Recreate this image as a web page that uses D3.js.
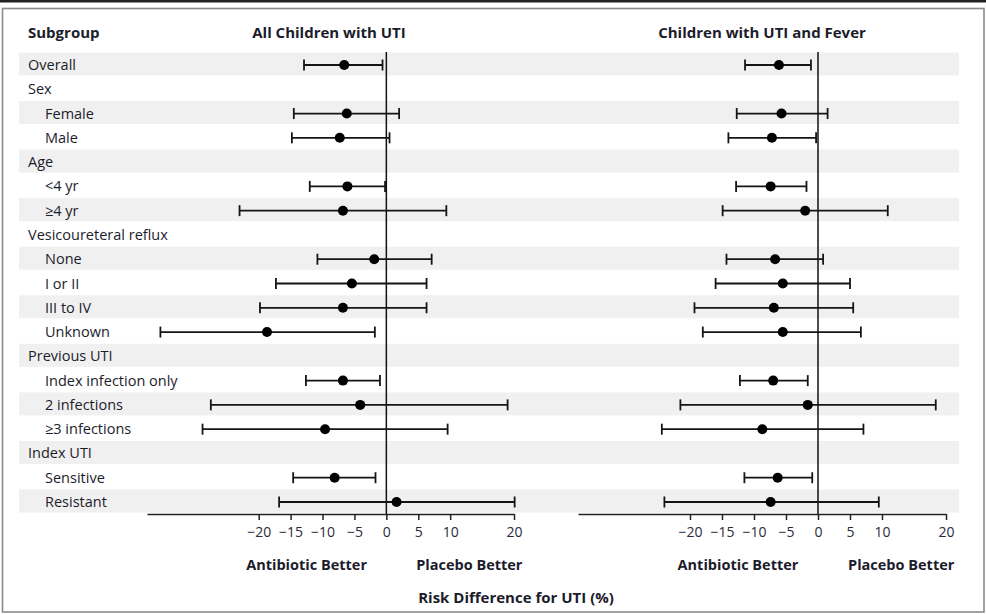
<!DOCTYPE html>
<html><head><meta charset="utf-8">
<script src="https://cdn.jsdelivr.net/npm/d3@7"></script>
<style>
html,body{margin:0;padding:0;background:#fff;}
svg{display:block;font-family:"Open Sans",sans-serif;}
</style></head>
<body>
<svg id="chart" width="986" height="614"></svg>
<script>
const subgroups = ["Overall","Sex","Female","Male","Age","<4 yr","≥4 yr","Vesicoureteral reflux","None","I or II","III to IV","Unknown","Previous UTI","Index infection only","2 infections","≥3 infections","Index UTI","Sensitive","Resistant"];
const indentLevel = [0,0,1,1,0,1,1,0,1,1,1,1,0,1,1,1,0,1,1];

const allEst  = [-6.6, null, -6.2, -7.3, null, -6.1, -6.8, null, -1.9, -5.4, -6.8, -18.7, null, -6.8, -4.1, -9.6, null, -8.1, 1.6];
const allLow  = [-12.9, null, -14.5, -14.8, null, -12.0, -23.0, null, -10.8, -17.3, -19.8, -35.4, null, -12.6, -27.5, -28.8, null, -14.6, -16.8];
const allHigh = [-0.6, null, 2.0, 0.5, null, -0.2, 9.4, null, 7.1, 6.3, 6.3, -1.8, null, -1.0, 19.0, 9.6, null, -1.7, 20.1];

const feverEst  = [-6.1, null, -5.7, -7.2, null, -7.4, -2.0, null, -6.7, -5.5, -6.9, -5.5, null, -7.0, -1.6, -8.7, null, -6.3, -7.4];
const feverLow  = [-11.4, null, -12.7, -14.0, null, -12.8, -14.9, null, -14.3, -16.0, -19.3, -18.0, null, -12.2, -21.5, -24.4, null, -11.5, -24.0];
const feverHigh = [-1.1, null, 1.5, -0.3, null, -1.8, 10.9, null, 0.8, 5.0, 5.5, 6.7, null, -1.6, 18.4, 7.1, null, -0.9, 9.5];

const tickValues = [-20,-15,-10,-5,0,5,10,20];
const panelTitles = ["All Children with UTI","Children with UTI and Fever"];
const sideLabels = ["Antibiotic Better","Placebo Better"];
const axisTitle = "Risk Difference for UTI (%)";
const xDomain = [-37.5, 20];

const svg = d3.select("#chart");
const ink = "#1c1c2c";

// frame
svg.append("line").attr("x1",0).attr("x2",986).attr("y1",1.3).attr("y2",1.3).attr("stroke","#222").attr("stroke-width",2.4);
svg.append("rect").attr("x",2.5).attr("y",8.5).attr("width",981.5).attr("height",603.5)
  .attr("fill","none").attr("stroke","#8a8a8a").attr("stroke-width",1.6);

const y = d3.scalePoint().domain(d3.range(subgroups.length)).range([65, 502]);

// bands
svg.append("g").selectAll("rect").data(d3.range(subgroups.length).filter(i => i % 2 === 0)).join("rect")
  .attr("x",19).attr("width",940).attr("y",i => y(i)-12.5).attr("height",23).attr("fill","#f0f0f0");

// labels
svg.append("text").attr("x",28).attr("y",38).attr("font-weight","bold").attr("font-size",15).attr("fill",ink).text("Subgroup");
svg.append("g").selectAll("text").data(subgroups).join("text")
  .attr("x",(d,i) => indentLevel[i] ? 45 : 28)
  .attr("y",(d,i) => y(i)+5)
  .attr("font-size",14.5).attr("fill",ink).text(d => d);

const panels = [
  {range:[147,514], est:allEst, low:allLow, high:allHigh, title:panelTitles[0], titleX:329},
  {range:[578,946], est:feverEst, low:feverLow, high:feverHigh, title:panelTitles[1], titleX:762}
];

panels.forEach(p => {
  const x = d3.scaleLinear().domain(xDomain).range(p.range);
  const g = svg.append("g");
  g.append("text").attr("x",p.titleX).attr("y",38).attr("text-anchor","middle")
    .attr("font-weight","bold").attr("font-size",15).attr("fill",ink).text(p.title);

  // zero line
  g.append("line").attr("x1",x(0)).attr("x2",x(0)).attr("y1",52).attr("y2",514)
    .attr("stroke","#111").attr("stroke-width",1.5);

  const axis = d3.axisBottom(x).tickValues(tickValues).tickSize(6).tickSizeOuter(0);
  const ag = g.append("g").attr("transform","translate(0,514)").call(axis);
  ag.select(".domain").attr("stroke","#222").attr("stroke-width",1.7);
  ag.selectAll(".tick line").attr("stroke","#222").attr("stroke-width",1.5);
  ag.selectAll(".tick text").attr("font-family","Open Sans, sans-serif").attr("font-size",14)
    .attr("fill","#2a2a3a").attr("dy",0).attr("y",23);

  const idx = d3.range(subgroups.length).filter(i => p.est[i] !== null);
  const eg = g.append("g").attr("stroke","#151515").attr("stroke-width",1.8);
  eg.selectAll("line.ci").data(idx).join("line").attr("class","ci")
    .attr("x1",i => x(p.low[i])).attr("x2",i => x(p.high[i])).attr("y1",i => y(i)).attr("y2",i => y(i));
  eg.selectAll("line.capl").data(idx).join("line").attr("class","capl")
    .attr("x1",i => x(p.low[i])).attr("x2",i => x(p.low[i])).attr("y1",i => y(i)-5.5).attr("y2",i => y(i)+5.5);
  eg.selectAll("line.caph").data(idx).join("line").attr("class","caph")
    .attr("x1",i => x(p.high[i])).attr("x2",i => x(p.high[i])).attr("y1",i => y(i)-5.5).attr("y2",i => y(i)+5.5);
  g.append("g").selectAll("circle").data(idx).join("circle")
    .attr("cx",i => x(p.est[i])).attr("cy",i => y(i)).attr("r",5).attr("fill","#000");

  // side labels
  g.append("text").attr("x",x(-12.5)).attr("y",570).attr("text-anchor","middle")
    .attr("font-weight","bold").attr("font-size",14.5).attr("fill",ink).text(sideLabels[0]);
  g.append("text").attr("x",x(13)).attr("y",570).attr("text-anchor","middle")
    .attr("font-weight","bold").attr("font-size",14.5).attr("fill",ink).text(sideLabels[1]);
});

svg.append("text").attr("x",516).attr("y",603).attr("text-anchor","middle")
  .attr("font-weight","bold").attr("font-size",15).attr("fill",ink).text(axisTitle);
</script>
</body></html>
